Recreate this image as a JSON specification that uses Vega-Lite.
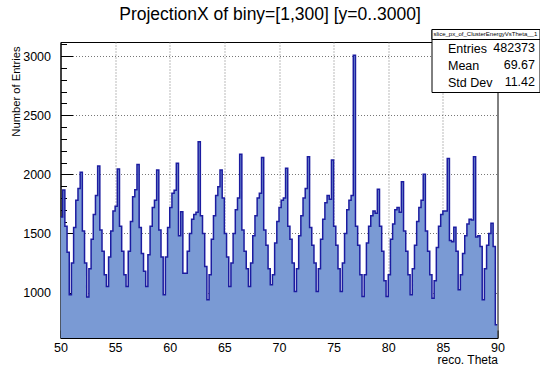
{
"$schema": "https://vega.github.io/schema/vega-lite/v6.json",
"width": 437, "height": 296,
"autosize": {"type": "none"},
"padding": {"left": 60.5, "top": 42, "right": 42.5, "bottom": 28},
"background": "white",
"config": {"view": {"stroke": "black", "strokeWidth": 1}, "font": "Liberation Sans"},
"title": {"text": "ProjectionX of biny=[1,300] [y=0..3000]", "fontSize": 17.5, "font": "Liberation Sans", "fontWeight": "normal", "anchor": "middle", "dx": -9, "offset": 5, "color": "black"},
"datasets": {
"h": [
{"lo":50.0,"hi":50.2,"n":1640},{"lo":50.2,"hi":50.4,"n":1867},{"lo":50.4,"hi":50.6,"n":1560},{"lo":50.6,"hi":50.8,"n":1340},{"lo":50.8,"hi":51.0,"n":980},
{"lo":51.0,"hi":51.2,"n":1250},{"lo":51.2,"hi":51.4,"n":1550},{"lo":51.4,"hi":51.6,"n":1780},{"lo":51.6,"hi":51.8,"n":1880},{"lo":51.8,"hi":52.0,"n":2017},
{"lo":52.0,"hi":52.2,"n":1520},{"lo":52.2,"hi":52.4,"n":1250},{"lo":52.4,"hi":52.6,"n":961},{"lo":52.6,"hi":52.8,"n":1200},{"lo":52.8,"hi":53.0,"n":1450},
{"lo":53.0,"hi":53.2,"n":1660},{"lo":53.2,"hi":53.4,"n":1820},{"lo":53.4,"hi":53.6,"n":2070},{"lo":53.6,"hi":53.8,"n":1530},{"lo":53.8,"hi":54.0,"n":1350},
{"lo":54.0,"hi":54.2,"n":1150},{"lo":54.2,"hi":54.4,"n":1051},{"lo":54.4,"hi":54.6,"n":1300},{"lo":54.6,"hi":54.8,"n":1520},{"lo":54.8,"hi":55.0,"n":1690},
{"lo":55.0,"hi":55.2,"n":1730},{"lo":55.2,"hi":55.4,"n":2045},{"lo":55.4,"hi":55.6,"n":1560},{"lo":55.6,"hi":55.8,"n":1350},{"lo":55.8,"hi":56.0,"n":1150},
{"lo":56.0,"hi":56.2,"n":1051},{"lo":56.2,"hi":56.4,"n":1350},{"lo":56.4,"hi":56.6,"n":1600},{"lo":56.6,"hi":56.8,"n":1810},{"lo":56.8,"hi":57.0,"n":1870},
{"lo":57.0,"hi":57.2,"n":2084},{"lo":57.2,"hi":57.4,"n":1550},{"lo":57.4,"hi":57.6,"n":1330},{"lo":57.6,"hi":57.8,"n":1180},{"lo":57.8,"hi":58.0,"n":1051},
{"lo":58.0,"hi":58.2,"n":1320},{"lo":58.2,"hi":58.4,"n":1560},{"lo":58.4,"hi":58.6,"n":1720},{"lo":58.6,"hi":58.8,"n":1780},{"lo":58.8,"hi":59.0,"n":2036},
{"lo":59.0,"hi":59.2,"n":1530},{"lo":59.2,"hi":59.4,"n":1300},{"lo":59.4,"hi":59.6,"n":980},{"lo":59.6,"hi":59.8,"n":1300},{"lo":59.8,"hi":60.0,"n":1550},
{"lo":60.0,"hi":60.2,"n":1720},{"lo":60.2,"hi":60.4,"n":1840},{"lo":60.4,"hi":60.6,"n":1865},{"lo":60.6,"hi":60.8,"n":2093},{"lo":60.8,"hi":61.0,"n":1480},
{"lo":61.0,"hi":61.2,"n":1684},{"lo":61.2,"hi":61.4,"n":1164},{"lo":61.4,"hi":61.6,"n":1164},{"lo":61.6,"hi":61.8,"n":1350},{"lo":61.8,"hi":62.0,"n":1500},
{"lo":62.0,"hi":62.2,"n":1620},{"lo":62.2,"hi":62.4,"n":1660},{"lo":62.4,"hi":62.6,"n":1680},{"lo":62.6,"hi":62.8,"n":2276},{"lo":62.8,"hi":63.0,"n":1650},
{"lo":63.0,"hi":63.2,"n":1500},{"lo":63.2,"hi":63.4,"n":1220},{"lo":63.4,"hi":63.6,"n":938},{"lo":63.6,"hi":63.8,"n":1150},{"lo":63.8,"hi":64.0,"n":1450},
{"lo":64.0,"hi":64.2,"n":1650},{"lo":64.2,"hi":64.4,"n":1820},{"lo":64.4,"hi":64.6,"n":1895},{"lo":64.6,"hi":64.8,"n":2036},{"lo":64.8,"hi":65.0,"n":1800},
{"lo":65.0,"hi":65.2,"n":1500},{"lo":65.2,"hi":65.4,"n":1300},{"lo":65.4,"hi":65.6,"n":1051},{"lo":65.6,"hi":65.8,"n":1250},{"lo":65.8,"hi":66.0,"n":1500},
{"lo":66.0,"hi":66.2,"n":1700},{"lo":66.2,"hi":66.4,"n":1800},{"lo":66.4,"hi":66.6,"n":2171},{"lo":66.6,"hi":66.8,"n":1530},{"lo":66.8,"hi":67.0,"n":1350},
{"lo":67.0,"hi":67.2,"n":1200},{"lo":67.2,"hi":67.4,"n":1051},{"lo":67.4,"hi":67.6,"n":1250},{"lo":67.6,"hi":67.8,"n":1480},{"lo":67.8,"hi":68.0,"n":1650},
{"lo":68.0,"hi":68.2,"n":1800},{"lo":68.2,"hi":68.4,"n":1840},{"lo":68.4,"hi":68.6,"n":2143},{"lo":68.6,"hi":68.8,"n":1530},{"lo":68.8,"hi":69.0,"n":1400},
{"lo":69.0,"hi":69.2,"n":1200},{"lo":69.2,"hi":69.4,"n":1065},{"lo":69.4,"hi":69.6,"n":1150},{"lo":69.6,"hi":69.8,"n":1420},{"lo":69.8,"hi":70.0,"n":1600},
{"lo":70.0,"hi":70.2,"n":1720},{"lo":70.2,"hi":70.4,"n":1780},{"lo":70.4,"hi":70.6,"n":1800},{"lo":70.6,"hi":70.8,"n":2051},{"lo":70.8,"hi":71.0,"n":1560},
{"lo":71.0,"hi":71.2,"n":1450},{"lo":71.2,"hi":71.4,"n":1250},{"lo":71.4,"hi":71.6,"n":1009},{"lo":71.6,"hi":71.8,"n":1200},{"lo":71.8,"hi":72.0,"n":1480},
{"lo":72.0,"hi":72.2,"n":1650},{"lo":72.2,"hi":72.4,"n":1800},{"lo":72.4,"hi":72.6,"n":1880},{"lo":72.6,"hi":72.8,"n":2149},{"lo":72.8,"hi":73.0,"n":1550},
{"lo":73.0,"hi":73.2,"n":1400},{"lo":73.2,"hi":73.4,"n":1250},{"lo":73.4,"hi":73.6,"n":1009},{"lo":73.6,"hi":73.8,"n":1200},{"lo":73.8,"hi":74.0,"n":1450},
{"lo":74.0,"hi":74.2,"n":1620},{"lo":74.2,"hi":74.4,"n":1760},{"lo":74.4,"hi":74.6,"n":1820},{"lo":74.6,"hi":74.8,"n":1790},{"lo":74.8,"hi":75.0,"n":2121},
{"lo":75.0,"hi":75.2,"n":1560},{"lo":75.2,"hi":75.4,"n":1400},{"lo":75.4,"hi":75.6,"n":1200},{"lo":75.6,"hi":75.8,"n":1009},{"lo":75.8,"hi":76.0,"n":1250},
{"lo":76.0,"hi":76.2,"n":1500},{"lo":76.2,"hi":76.4,"n":1700},{"lo":76.4,"hi":76.6,"n":1780},{"lo":76.6,"hi":76.8,"n":1820},{"lo":76.8,"hi":77.0,"n":3008},
{"lo":77.0,"hi":77.2,"n":1560},{"lo":77.2,"hi":77.4,"n":1400},{"lo":77.4,"hi":77.6,"n":1150},{"lo":77.6,"hi":77.8,"n":966},{"lo":77.8,"hi":78.0,"n":1150},
{"lo":78.0,"hi":78.2,"n":1420},{"lo":78.2,"hi":78.4,"n":1560},{"lo":78.4,"hi":78.6,"n":1650},{"lo":78.6,"hi":78.8,"n":1690},{"lo":78.8,"hi":79.0,"n":1670},
{"lo":79.0,"hi":79.2,"n":1873},{"lo":79.2,"hi":79.4,"n":1560},{"lo":79.4,"hi":79.6,"n":1350},{"lo":79.6,"hi":79.8,"n":1100},{"lo":79.8,"hi":80.0,"n":966},
{"lo":80.0,"hi":80.2,"n":1150},{"lo":80.2,"hi":80.4,"n":1450},{"lo":80.4,"hi":80.6,"n":1580},{"lo":80.6,"hi":80.8,"n":1700},{"lo":80.8,"hi":81.0,"n":1720},
{"lo":81.0,"hi":81.2,"n":1680},{"lo":81.2,"hi":81.4,"n":1937},{"lo":81.4,"hi":81.6,"n":1520},{"lo":81.6,"hi":81.8,"n":1350},{"lo":81.8,"hi":82.0,"n":1150},
{"lo":82.0,"hi":82.2,"n":980},{"lo":82.2,"hi":82.4,"n":1200},{"lo":82.4,"hi":82.6,"n":1400},{"lo":82.6,"hi":82.8,"n":1600},{"lo":82.8,"hi":83.0,"n":1720},
{"lo":83.0,"hi":83.2,"n":1780},{"lo":83.2,"hi":83.4,"n":2000},{"lo":83.4,"hi":83.6,"n":1520},{"lo":83.6,"hi":83.8,"n":1350},{"lo":83.8,"hi":84.0,"n":1150},
{"lo":84.0,"hi":84.2,"n":952},{"lo":84.2,"hi":84.4,"n":1100},{"lo":84.4,"hi":84.6,"n":1380},{"lo":84.6,"hi":84.8,"n":1560},{"lo":84.8,"hi":85.0,"n":1660},
{"lo":85.0,"hi":85.2,"n":1690},{"lo":85.2,"hi":85.4,"n":1690},{"lo":85.4,"hi":85.6,"n":2135},{"lo":85.6,"hi":85.8,"n":1440},{"lo":85.8,"hi":86.0,"n":1430},
{"lo":86.0,"hi":86.2,"n":1552},{"lo":86.2,"hi":86.4,"n":1350},{"lo":86.4,"hi":86.6,"n":1023},{"lo":86.6,"hi":86.8,"n":1150},{"lo":86.8,"hi":87.0,"n":1330},
{"lo":87.0,"hi":87.2,"n":1480},{"lo":87.2,"hi":87.4,"n":1580},{"lo":87.4,"hi":87.6,"n":1620},{"lo":87.6,"hi":87.8,"n":1614},{"lo":87.8,"hi":88.0,"n":2149},
{"lo":88.0,"hi":88.2,"n":1470},{"lo":88.2,"hi":88.4,"n":1480},{"lo":88.4,"hi":88.6,"n":1390},{"lo":88.6,"hi":88.8,"n":938},{"lo":88.8,"hi":89.0,"n":1200},
{"lo":89.0,"hi":89.2,"n":1400},{"lo":89.2,"hi":89.4,"n":1500},{"lo":89.4,"hi":89.6,"n":1586},{"lo":89.6,"hi":89.8,"n":1390},{"lo":89.8,"hi":90.0,"n":727}
],
"stats": [
{"stat":"Entries","val":"482373"},{"stat":"Mean","val":"69.67"},{"stat":"Std Dev","val":"11.42"}
]
},
"layer": [
{
"data": {"name": "h"},
"transform": [{"fold": ["lo","hi"], "as": ["edge","xv"]}],
"mark": {"type": "area", "color": "#7a9ad4", "clip": true, "interpolate": "linear"},
"encoding": {
"x": {"field": "xv", "type": "quantitative", "scale": {"domain": [50,90], "nice": false, "zero": false},
"axis": {"title": "reco. Theta", "values": [50,51,52,53,54,55,56,57,58,59,60,61,62,63,64,65,66,67,68,69,70,71,72,73,74,75,76,77,78,79,80,81,82,83,84,85,86,87,88,89,90],
"tickCount": 100, "format": "d",
"labelExpr": "datum.value % 5 === 0 ? datum.label : ''",
"tickSize": {"condition": {"test": "datum.value % 5 === 0", "value": -8}, "value": -4},
"tickColor": "black", "domainColor": "black", "labelColor": "black", "labelFontSize": 12.5, "labelPadding": 11,
"labelOverlap": false, "labelFlush": false,
"grid": true, "gridDash": [1,2], "gridColor": "#777777",
"gridOpacity": {"condition": {"test": "datum.value % 5 === 0 && datum.value > 50 && datum.value < 90", "value": 1}, "value": 0},
"titleAnchor": "end", "titleAlign": "right", "titleX": 437, "titleY": 25.5, "titleBaseline": "alphabetic",
"titleFontSize": 12, "titleFontWeight": "normal", "titleColor": "black"}},
"y": {"field": "n", "type": "quantitative", "stack": null, "scale": {"domain": [615,3120], "nice": false, "zero": false},
"axis": {"title": "Number of Entries", "values": [700,800,900,1000,1100,1200,1300,1400,1500,1600,1700,1800,1900,2000,2100,2200,2300,2400,2500,2600,2700,2800,2900,3000,3100],
"tickCount": 100,
"labelExpr": "datum.value % 500 === 0 ? datum.label : ''",
"format": "d",
"tickSize": {"condition": {"test": "datum.value % 500 === 0", "value": -12}, "value": -6},
"tickColor": "black", "domainColor": "black", "labelColor": "black", "labelFontSize": 12.5, "labelPadding": 22,
"labelOverlap": false, "labelFlush": false,
"grid": true, "gridDash": [1,2], "gridColor": "#777777",
"gridOpacity": {"condition": {"test": "datum.value % 500 === 0", "value": 1}, "value": 0},
"titleAnchor": "end", "titleAngle": -90, "titleAlign": "right", "titleX": -39, "titleY": 4, "titleBaseline": "bottom",
"titleFontSize": 11.2, "titleFontWeight": "normal", "titleColor": "black"}},
"order": [{"field": "xv", "type": "quantitative"}, {"field": "edge", "type": "nominal"}]
}
},
{
"data": {"name": "h"},
"transform": [{"fold": ["lo","hi"], "as": ["edge","xv"]}],
"mark": {"type": "line", "color": "#1c1ca0", "strokeWidth": 1.5, "clip": true, "interpolate": "linear"},
"encoding": {
"x": {"field": "xv", "type": "quantitative"},
"y": {"field": "n", "type": "quantitative"},
"order": [{"field": "xv", "type": "quantitative"}, {"field": "edge", "type": "nominal"}]
}
},
{
"data": {"name": "stats"},
"mark": {"type": "point", "opacity": 0},
"encoding": {
"color": {"field": "stat", "type": "nominal", "scale": {"domain": ["Entries","Mean","Std Dev"], "range": ["black","black","black"]},
"legend": {"orient": "none", "legendX": 371, "legendY": -13, "title": "slice_px_of_ClusterEnergyVsTheta__1", "titleFontSize": 6, "titleFontWeight": "normal", "titleColor": "black", "titlePadding": 6, "titleLimit": 200,
"labelFontSize": 12.5, "labelColor": "black", "symbolSize": 0, "symbolStrokeWidth": 0, "symbolOpacity": 0, "labelOffset": 2, "rowPadding": 4, "strokeColor": "black", "fillColor": "white", "padding": 2, "zindex": 1}},
"shape": {"field": "val", "type": "nominal", "scale": {"domain": ["482373","69.67","11.42"]},
"legend": {"orient": "none", "legendX": 462, "legendY": 0, "title": null,
"labelFontSize": 12.5, "labelColor": "black", "labelAlign": "right", "symbolSize": 0, "symbolStrokeWidth": 0, "symbolOpacity": 0, "labelOffset": 0, "rowPadding": 4, "padding": 0, "zindex": 2}},
"size": {"field": "stat", "type": "nominal", "scale": {"domain": ["Entries"], "range": [0]},
"legend": {"orient": "none", "legendX": 371, "legendY": -13, "title": "slice_px_of_ClusterEnergyVsTheta__1", "titleFontSize": 6, "titleFontWeight": "normal", "titleColor": "black", "titlePadding": 0, "titleLimit": 200,
"labelExpr": "''", "labelFontSize": 1, "symbolSize": 0, "symbolStrokeWidth": 0, "symbolOpacity": 0, "labelOffset": 0, "rowPadding": 0, "strokeColor": "black", "fillColor": "white", "padding": 2, "zindex": 3}}
}
}
]
}
